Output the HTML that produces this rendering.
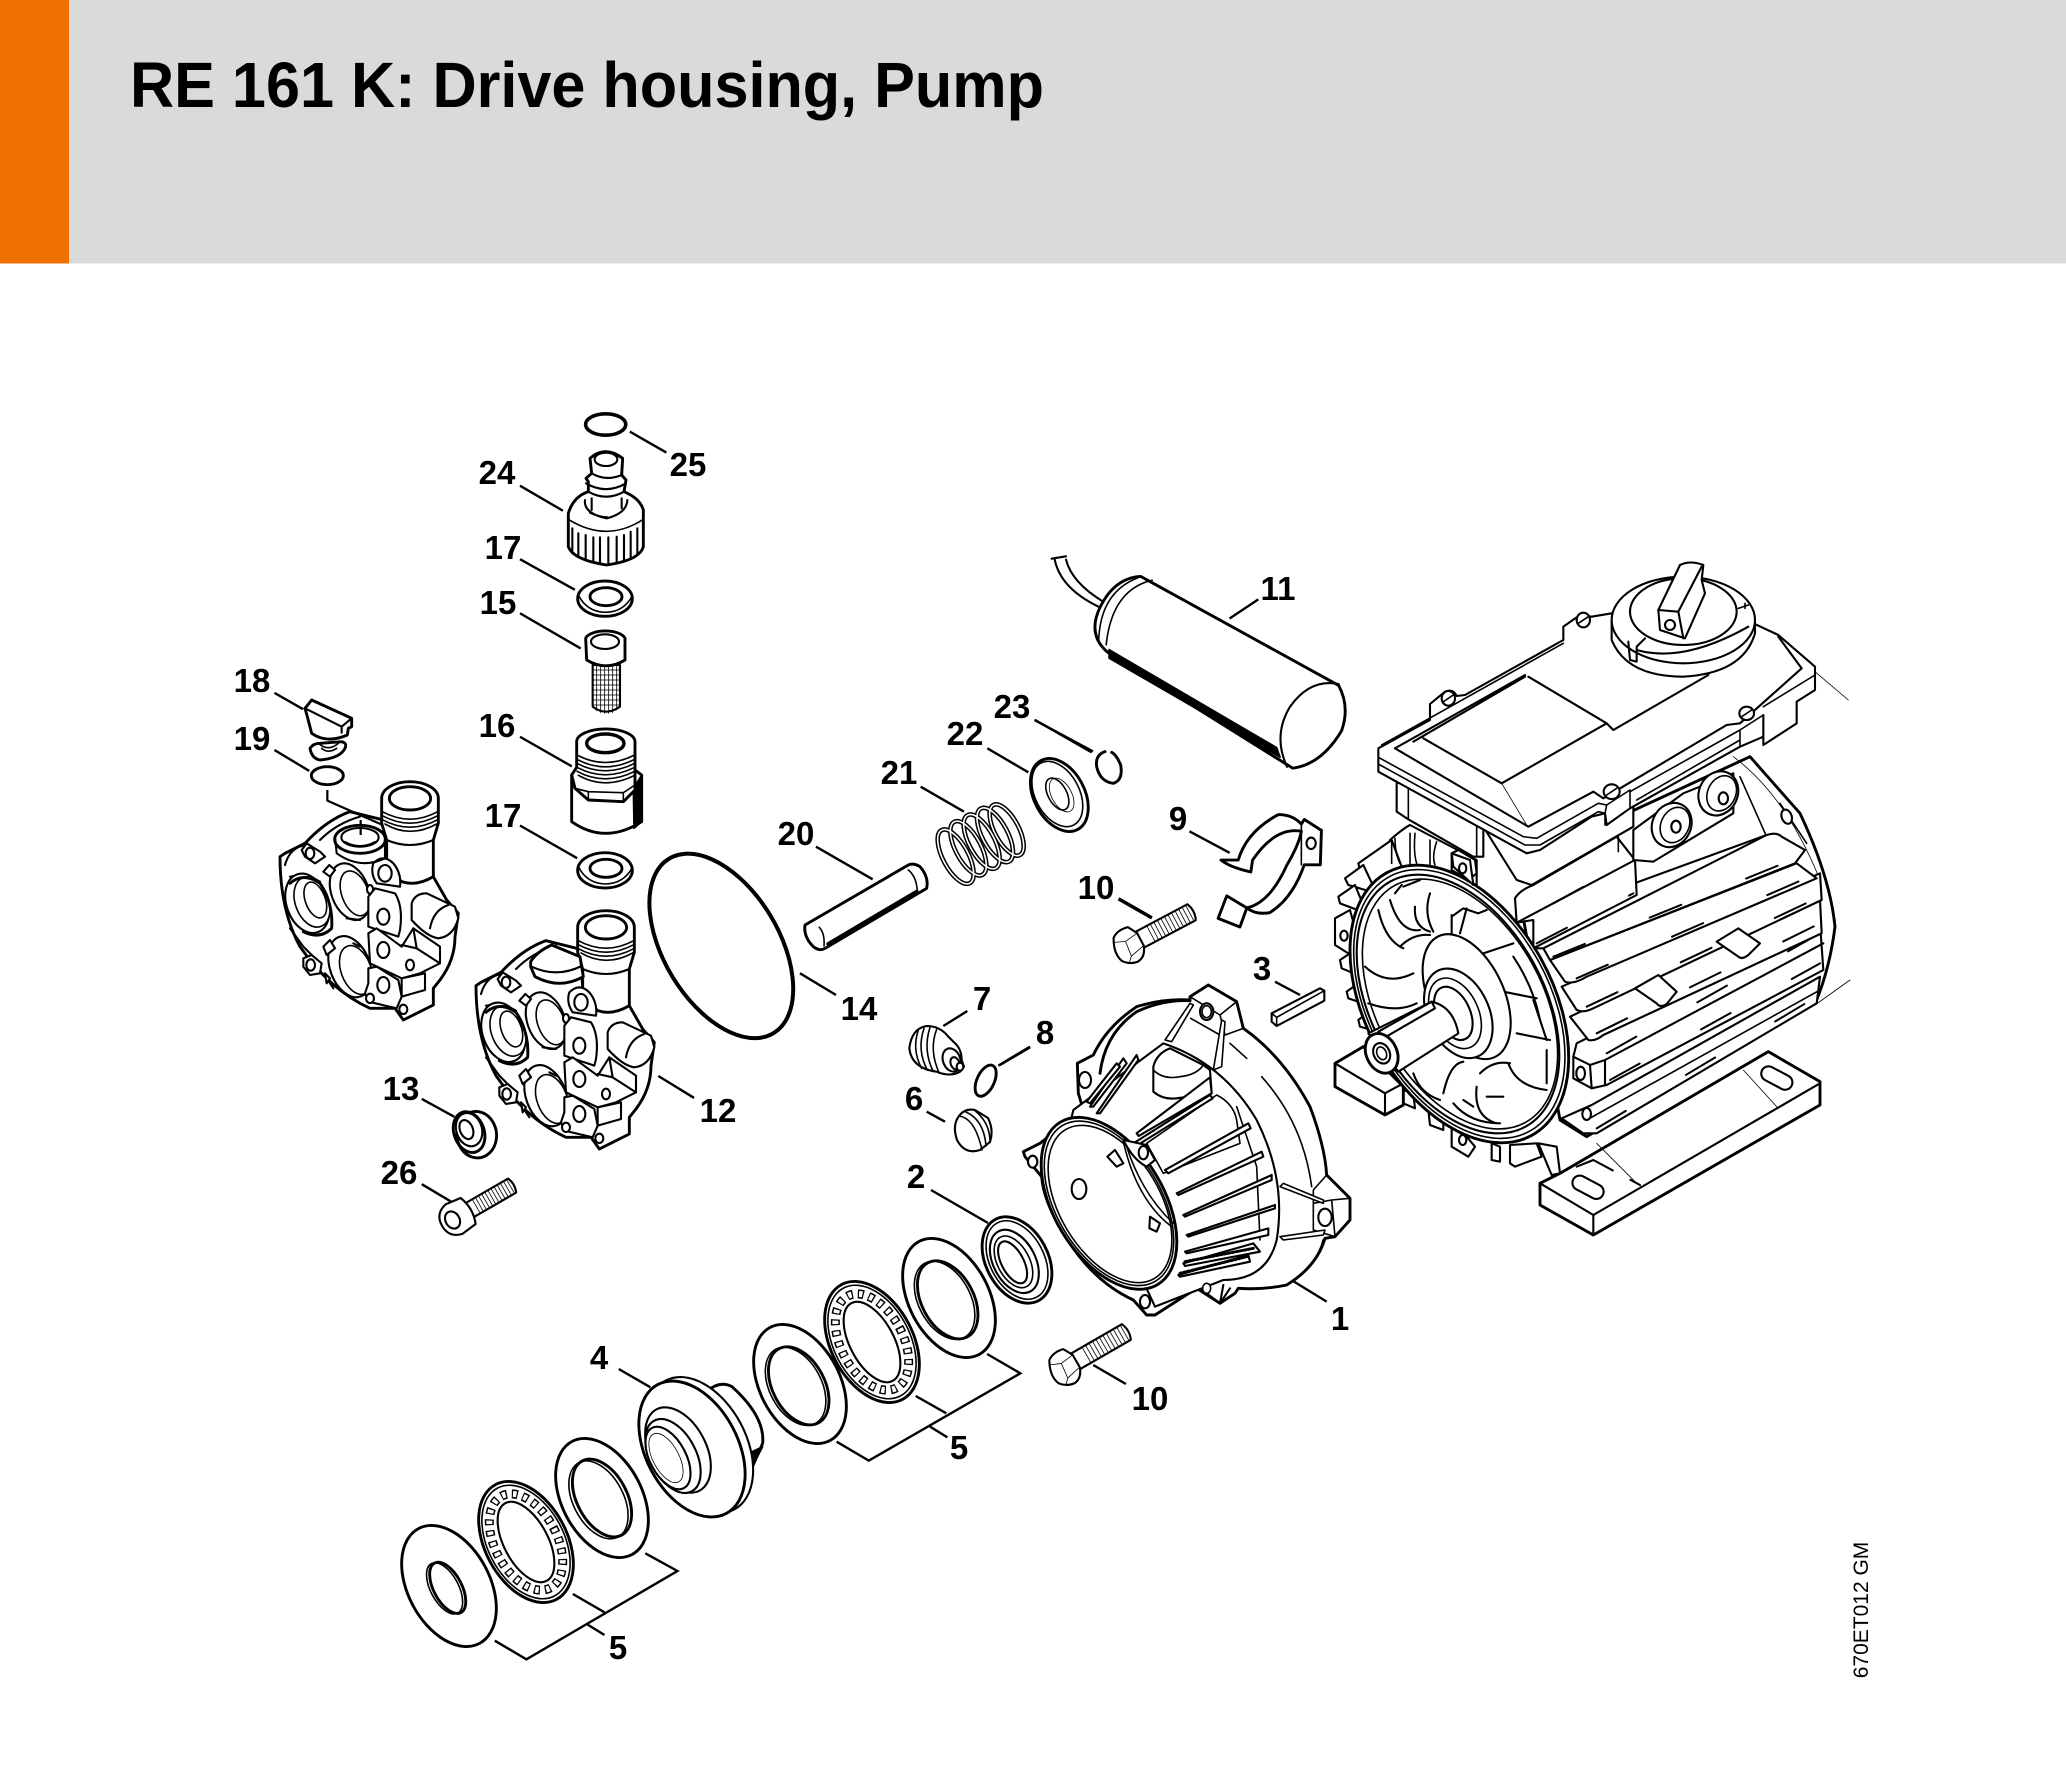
<!DOCTYPE html>
<html><head><meta charset="utf-8"><title>RE 161 K: Drive housing, Pump</title>
<style>
html,body{margin:0;padding:0;background:#fff}
svg{display:block}
svg *{vector-effect:non-scaling-stroke}
.a{fill:#fff;stroke:#000;stroke-width:1.6;stroke-linejoin:round;stroke-linecap:round}
.a .n,.n{fill:none}
.h{stroke-width:2.9}
.m{stroke-width:2.1}
.t{stroke-width:.8}
.l{fill:none;stroke:#000;stroke-width:2.4;stroke-linecap:butt}
.k{fill:#000;stroke:#000}
.d{fill:none;stroke-width:2;stroke-dasharray:34 70}
text.b{font-family:"Liberation Sans",sans-serif;font-weight:bold;font-size:33px;text-anchor:middle;fill:#000}
</style></head><body>
<svg width="2066" height="1784" viewBox="0 0 2066 1784" xmlns="http://www.w3.org/2000/svg">
<defs>
<g id="thr" class="a">
<path d="M8,-9 L72,-9 Q76,0 72,9 L8,9Z" class="m"/>
<path class="n t" d="M26,-9V9M30,-9V9M34,-9V9M38,-9V9M42,-9V9M46,-9V9M50,-9V9M54,-9V9M58,-9V9M62,-9V9M66,-9V9M70,-9V9"/>
</g>
<g id="bolt" class="a">
<use href="#thr"/>
<g transform="scale(.88)">
<path class="m" d="M-10,-16 Q-2,-22 10,-19 L16,-8 L16,8 Q12,20 2,21 Q-8,20 -14,12 Q-19,0 -10,-16Z"/>
<path class="n t" d="M-12,-11 L0,-6 L16,-8M0,-6 L-2,12 L-8,18M-2,12 L16,8"/>
</g>
</g>
<g id="pump" class="a">
<path class="h" d="M30,530 L45,520 L105,490 Q170,420 240,395 L340,420 L350,530 L490,590 L530,660 L565,700 L555,770 Q555,840 510,900 L490,925 L490,975 L400,1020 L375,985 L300,985 Q180,930 90,800 Q30,690 30,530Z"/>
<path class="n m" d="M45,555 Q60,500 110,495 M60,590 Q110,580 150,605M150,480 Q200,430 270,410M60,745 L100,800 L130,830M170,895 L190,925"/>
<ellipse class="m" cx="112" cy="670" rx="62" ry="92" transform="rotate(-20 112 670)"/>
<ellipse cx="126" cy="666" rx="50" ry="78" transform="rotate(-20 126 666)"/>
<ellipse cx="136" cy="660" rx="30" ry="56" transform="rotate(-20 136 660)" class="n"/>
<path class="n h" d="M60,610 Q100,575 150,610 Q190,670 185,745 Q150,780 100,755"/>
<ellipse class="m" cx="240" cy="635" rx="56" ry="88" transform="rotate(-20 240 635)"/>
<ellipse cx="255" cy="640" rx="40" ry="70" transform="rotate(-20 255 640)"/>
<ellipse class="m" cx="240" cy="860" rx="60" ry="95" transform="rotate(-20 240 860)"/>
<ellipse cx="258" cy="870" rx="45" ry="76" transform="rotate(-20 258 870)"/>
<path class="m" d="M160,575 L178,555 L195,570 L180,590Z M160,800 L180,780 L195,805 L170,825Z M165,880 L180,895 L170,910Z"/>
<path class="n m" d="M230,715 L270,720M270,800 L250,790"/>
<path class="m" d="M95,510 L110,490 L150,515 L165,530 L135,550 L105,530Z M100,835 L125,825 L155,850 L150,880 L120,885 L100,860Z"/>
<ellipse class="m" cx="120" cy="520" rx="13" ry="17"/>
<ellipse class="m" cx="122" cy="855" rx="13" ry="17"/>
<path class="h" d="M335,355 L335,430 L350,480 L350,560 L395,605 Q440,620 490,590 L490,480 L505,430 L505,355 A85,50 0 0 0 335,355Z"/>
<ellipse class="h" cx="420" cy="355" rx="62" ry="35"/>
<path class="n" d="M337,395 Q420,440 503,395M337,407 Q420,452 503,407M337,419 Q420,464 503,419M345,432 Q420,476 500,432"/>
<path class="n m" d="M350,480 Q420,510 490,480"/>
<path class="m" d="M310,550 Q340,520 370,550 Q395,580 390,620 L320,610 Q300,580 310,550Z"/>
<ellipse class="m" cx="345" cy="580" rx="20" ry="25"/>
<ellipse class="m" cx="300" cy="628" rx="9" ry="13"/>
<path class="m" d="M295,650 L315,625 L375,640 Q400,680 390,750 L385,770 L295,740Z"/>
<ellipse class="m" cx="340" cy="710" rx="18" ry="24"/>
<path class="m" d="M425,670 Q435,640 470,640 L555,680 L565,715 Q550,770 505,775 Q470,770 425,720Z"/>
<path class="n m" d="M480,745 Q490,690 535,675"/>
<path class="m" d="M295,760 L320,745 L395,800 L430,745 L510,800 L510,850 L450,880 L395,895 L300,850Z"/>
<path class="n m" d="M395,795 L440,805 L510,850M440,805 L430,745"/>
<ellipse class="m" cx="340" cy="810" rx="18" ry="24"/>
<ellipse class="m" cx="420" cy="855" rx="12" ry="16"/>
<path class="m" d="M395,895 L465,880 L465,930 L395,950Z"/>
<path class="m" d="M295,865 L320,860 L385,900 L395,950 L380,985 L295,965 L285,940 L295,910Z"/>
<ellipse class="m" cx="340" cy="915" rx="18" ry="24"/>
<ellipse class="m" cx="300" cy="955" rx="12" ry="14"/>
<ellipse class="m" cx="400" cy="988" rx="12" ry="14"/>
</g>
<g id="bearing" class="a">
<ellipse class="h" rx="41" ry="65"/>
<ellipse class="n" rx="38" ry="61"/>
<ellipse class="n" rx="31" ry="52" style="stroke-width:9;stroke-dasharray:6 5;stroke-linecap:butt"/>
<ellipse class="n" rx="31" ry="52" style="stroke:#fff;stroke-width:6;stroke-dasharray:3.5 7.5;stroke-dashoffset:-1.2;stroke-linecap:butt"/>
<ellipse class="m" rx="22" ry="44" style="fill:#fff"/>
</g>
<g id="w17" class="a">
<ellipse class="h" cx="375" cy="536" rx="82" ry="53"/>
<ellipse class="h n" cx="378" cy="530" rx="48" ry="27"/>
<path class="n" d="M295,525 Q320,575 375,577 Q430,577 457,528"/>
</g>
</defs>

<rect width="2066" height="1784" fill="#fff"/>
<rect width="2066" height="263.5" fill="#d9dbda"/>
<rect width="69" height="263.5" fill="#f07000"/>
<text x="130" y="107" font-family="'Liberation Sans',sans-serif" font-weight="bold" font-size="64" textLength="914" lengthAdjust="spacingAndGlyphs" fill="#000">RE 161 K: Drive housing, Pump</text>

<g transform="translate(220 400) scale(.4464 .5102)" class="a">
<path class="l" d="M918,62L1000,103M672,168L768,217M672,312L795,372M672,418L808,487M122,574L186,606M122,686L200,727M672,660L788,718M672,834L800,898M982,1325L1062,1368M452,1370L525,1405M452,1537L525,1575"/>
<ellipse class="n" style="stroke-width:3.6" cx="864" cy="48" rx="45" ry="21"/>
<ellipse class="h" cx="575" cy="1440" rx="44" ry="46" transform="rotate(-30 575 1440)"/>
<ellipse class="m" cx="558" cy="1430" rx="28" ry="34" transform="rotate(-30 558 1430)"/>
<ellipse class="m" cx="552" cy="1430" rx="14" ry="20" transform="rotate(-30 552 1430)"/>
<ellipse class="h" cx="558" cy="1435" rx="33" ry="42" transform="rotate(-30 558 1435)" style="fill:none"/>
<ellipse class="n" style="stroke-width:4" cx="1123" cy="1070" rx="208" ry="124" transform="rotate(52 1123 1070)"/>
</g>

<g transform="translate(480 420) scale(.33333)" class="a">
<path class="h" d="M265,280 Q280,230 325,215 L325,185 L318,175 L335,160 L330,115 Q375,75 428,115 L425,165 L438,180 L432,215 Q480,235 490,270 L490,380 Q480,420 380,435 Q280,420 265,380Z"/>
<ellipse class="m" cx="378" cy="118" rx="34" ry="20"/>
<path class="n m" d="M335,160 Q378,185 425,165M318,190 Q378,225 438,190M325,215 Q378,245 432,215"/>
<path class="n m" d="M315,240 Q310,280 380,295 Q440,280 442,240M335,235V270M425,235V265M330,278 Q360,292 382,292"/>
<path class="n" d="M265,298 Q380,370 490,298"/>
<path class="n m" d="M277,325V400M295,340V412M317,345V420M340,352V428M360,352V432M385,352V432M410,350V430M432,345V420M452,335V410M472,325V400"/>
<use href="#w17"/>
<use href="#w17" y="815"/>
<path class="m" d="M338,735 L338,860 Q378,890 420,860 L420,735Z"/>
<path class="n t" d="M340,750H418M340,765H418M340,780H418M340,795H418M340,810H418M340,825H418M340,840H418M340,855H418"/>
<path class="n t" d="M350,738V872M362,738V878M374,738V880M386,738V880M398,738V878M410,738V870"/>
<path class="h" d="M317,655 A60,27 0 0 1 435,655 L435,720 Q378,755 320,720Z"/>
<ellipse class="m" cx="375" cy="665" rx="42" ry="22"/>
</g>

<g transform="translate(270 680) scale(.33333)" class="a">
<path class="h" d="M112,110 L125,160 Q170,192 232,165 L235,145 L245,140 L245,115 L125,60 L105,85Z"/>
<path class="n m" d="M105,85 L215,140 L245,115M215,140 L215,158"/>
<path class="h" d="M120,205 Q130,190 150,190 L215,185 Q235,190 222,210 Q205,235 150,240 Q125,235 120,205Z"/>
<path class="n" d="M148,192 Q175,215 205,190M155,205 Q175,222 200,205"/>
<ellipse class="n h" cx="172" cy="287" rx="48" ry="27"/>
<use href="#pump"/>
<ellipse class="h" cx="270" cy="478" rx="76" ry="42"/>
<path class="n m" d="M196,478 L200,520 Q270,570 345,535 L345,480"/>
<ellipse class="m" cx="270" cy="472" rx="56" ry="28"/>
<path class="n" d="M225,485 Q270,510 315,485"/>
<path class="l m" style="stroke-width:2.2" d="M172,330 V362 L338,435M272,420 V432M272,440 V465"/>
<use href="#pump" transform="translate(588 387)"/>
<path class="h" d="M905,285 L905,425 Q1005,495 1115,425 L1115,285 L1095,270Z"/>
<path class="k" d="M1090,325 L1115,285 L1115,425 L1092,445Z"/>
<path class="h" d="M905,285 L920,262 L920,185 A87,38 0 0 1 1095,185 L1095,270 L1095,330 L1060,365 L955,360 L915,325Z"/>
<ellipse class="n" style="stroke-width:3.4" cx="1006" cy="190" rx="56" ry="28"/>
<path class="n" d="M921,225 Q1005,270 1094,225M921,238 Q1005,283 1094,238M921,250 Q1005,295 1094,250M921,262 Q1005,307 1094,262M921,274 Q1005,319 1094,274M925,286 Q1005,331 1094,286M955,335 V360M1060,338 V365M915,325 L955,335 L1060,338 L1095,315"/>
</g>

<g transform="translate(470 780) scale(.33333)" class="a">
<path class="h" d="M182,545 Q200,515 245,495 L330,530 L340,590 Q270,630 195,590 L182,560Z"/>
<path class="n m" d="M185,560 Q260,595 335,558"/>
</g>

<g transform="translate(1128 946) rotate(-28)"><use href="#bolt"/></g>
<g transform="translate(1064 1368) rotate(-30)"><use href="#bolt"/></g>
<g transform="translate(456 1218) rotate(-30)" class="a">
<use href="#thr" transform="scale(.9)"/>
<path class="m" d="M-2,-17 L14,-15 Q20,0 14,15 L-2,17 Q-16,14 -16,0 Q-16,-14 -2,-17Z"/>
<ellipse class="m" cx="-4" cy="0" rx="7" ry="9"/>
</g>

<g transform="translate(780 720) scale(.33333)" class="a">
<path class="l" d="M108,380L278,478M622,85L745,157M422,200L552,275M765,0L935,97M60,760L168,825M490,918L562,873M655,1037L750,980M440,1175L495,1205M1015,538L1115,595"/>
<path class="h" d="M75,615 L385,435 Q400,428 420,440 Q447,470 440,505 L135,685 Q120,695 100,680 Q70,650 75,615Z"/>
<path class="n" d="M385,450 Q410,470 412,515M118,622 Q135,640 132,678"/>
<path class="n" style="stroke-width:4" d="M145,672 L410,515"/>
<g style="stroke:#000;stroke-width:4.6;fill:none">
<ellipse cx="527" cy="410" rx="38" ry="90" transform="rotate(-28 527 410)"/>
<ellipse cx="565" cy="385" rx="38" ry="90" transform="rotate(-28 565 385)"/>
<ellipse cx="605" cy="365" rx="38" ry="90" transform="rotate(-28 605 365)"/>
<ellipse cx="645" cy="345" rx="38" ry="90" transform="rotate(-28 645 345)"/>
<ellipse cx="680" cy="330" rx="36" ry="85" transform="rotate(-28 680 330)"/>
</g>
<g style="stroke:#fff;stroke-width:1.6;fill:none">
<ellipse cx="527" cy="410" rx="38" ry="90" transform="rotate(-28 527 410)"/>
<ellipse cx="565" cy="385" rx="38" ry="90" transform="rotate(-28 565 385)"/>
<ellipse cx="605" cy="365" rx="38" ry="90" transform="rotate(-28 605 365)"/>
<ellipse cx="645" cy="345" rx="38" ry="90" transform="rotate(-28 645 345)"/>
<ellipse cx="680" cy="330" rx="36" ry="85" transform="rotate(-28 680 330)"/>
</g>
<ellipse class="h" cx="838" cy="225" rx="76" ry="117" transform="rotate(-28 838 225)"/>
<ellipse cx="832" cy="222" rx="66" ry="105" transform="rotate(-28 832 222)" style="fill:none"/>
<ellipse class="t" cx="845" cy="225" rx="30" ry="55" transform="rotate(-28 845 225)"/>
<ellipse cx="832" cy="222" rx="28" ry="52" transform="rotate(-28 832 222)" style="fill:none"/>
<path class="n h" d="M975,95 Q945,105 950,140 Q960,185 1000,190 Q1030,180 1022,135 Q1010,105 995,97"/>
<path class="m" d="M440,918 Q480,918 505,950 L520,965 Q545,985 545,1020 L552,1040 L540,1055 Q510,1072 470,1055 Q395,1045 388,985 Q395,925 440,918Z"/>
<path class="n" d="M415,930 Q395,990 425,1045M432,925 Q410,990 442,1050M450,922 Q428,990 460,1055M470,928 Q446,990 478,1060"/>
<ellipse class="m" cx="515" cy="1020" rx="26" ry="36" transform="rotate(-20 515 1020)"/>
<ellipse class="m" cx="525" cy="1030" rx="13" ry="19" transform="rotate(-20 525 1030)"/>
<ellipse class="m" cx="540" cy="1040" rx="10" ry="12"/>
<ellipse class="n h" cx="617" cy="1082" rx="26" ry="50" transform="rotate(25 617 1082)"/>
</g>

<g class="a">
<path class="m" d="M959,1116 Q965,1108 975,1110 L988,1118 Q994,1130 990,1142 L980,1150 Q965,1155 957,1140 Q952,1125 959,1116Z"/>
<path class="n" d="M959,1116 Q975,1118 982,1150M966,1112 Q984,1120 986,1146M974,1110 Q990,1122 990,1142"/>
</g>

<g transform="translate(990 960) scale(.33333)" class="a">
<path class="l" d="M855,65L930,105M912,965L1010,1025M30,315L120,262"/>
<path class="m" d="M845,160 L990,85 L1003,92 L1003,122 L860,198 L845,185Z"/>
<path class="n" d="M845,160 L860,172 L1003,92M860,172V198"/>
<path class="h" d="M600,110 L655,75 L740,125 L760,205 Q880,290 960,440 Q1005,560 1010,645 L1080,715 L1080,780 L1035,830 L1005,835 Q980,920 890,975 Q820,990 745,985 L735,1000 L690,1030 L620,985 L495,1065 L470,1065 L430,1020 Q300,960 215,810 Q160,720 155,650 L105,590 L100,575 L150,550 L280,450 L265,400 L262,310 L310,285 Q350,200 440,140 Q520,115 600,120Z"/>
<path class="n" d="M600,110 L690,165 L740,125M690,165 L705,225 L760,205M602,175 L690,225M1010,645 L970,690 L970,810 L1035,830M970,730 L1025,720 L1080,715M1025,720 L1035,830M815,350 Q940,490 965,680M720,250 L770,295"/>
<path class="n h" d="M330,340 Q345,220 440,155 Q520,118 600,122"/>
<path class="n m" d="M890,975 Q980,920 1000,840M620,985 L650,1000 L690,1030 L700,975M690,1030 L720,985"/>
<ellipse class="m" cx="650" cy="155" rx="20" ry="25"/>
<ellipse cx="650" cy="155" rx="14" ry="18" style="fill:none"/>
<ellipse class="m" cx="1005" cy="772" rx="20" ry="26"/>
<ellipse class="m" cx="285" cy="360" rx="18" ry="24"/>
<path style="fill:#fff;stroke-width:1.6" d="M525,240 L600,130 L610,135 L545,245Z"/>
<path d="M670,330 L695,180 L705,185 L695,320Z"/>
<path d="M880,670 L1000,720 L1000,730 L870,680Z"/>
<path d="M870,830 L1005,810 L1000,825 L880,840Z"/>
<path class="m" d="M250,450 L520,250 Q700,310 800,480 Q890,660 860,840 Q830,960 700,960 L495,1040 L430,900 L215,600Z"/>
<path class="n" d="M740,440 L800,620 L810,840M470,550 L680,405 Q730,430 740,480 L750,550 L520,640Z"/>
<path class="m" d="M490,320 Q500,280 540,265 L640,315 L660,330 L665,400 L560,415 Q520,420 490,395Z"/>
<path class="n" d="M490,330 Q520,360 570,350 Q620,345 640,315"/>
<g class="m">
<path d="M440,520 L660,352 L665,400 L446,528Z"/>
<path d="M430,550 L660,405 L668,415 L435,560Z"/>
<path d="M525,630 L775,490 L782,505 L535,640Z"/>
<path d="M560,700 L815,575 L820,590 L565,705Z"/>
<path d="M580,765 L845,645 L845,660 L585,770Z"/>
<path d="M590,825 L855,735 L855,745 L595,830Z"/>
<path d="M585,875 L835,805 L835,825 L590,880Z"/>
<path d="M580,910 L790,850 L810,875 L585,918Z"/>
<path d="M565,945 L775,885 L780,905 L570,950Z"/>
<path d="M320,460 L440,285 L445,300 L330,460Z"/>
<path d="M300,440 L400,295 L410,310 L310,440Z"/>
<path d="M290,425 L380,310 L390,320 L300,430Z"/>
</g>
<path class="n" style="stroke-width:3;stroke-dasharray:2 2" d="M585,905 L790,865M570,940 L770,890"/>
<ellipse class="h" cx="357" cy="730" rx="165" ry="284" transform="rotate(-31 357 730)"/>
<ellipse cx="357" cy="730" rx="157" ry="272" transform="rotate(-31 357 730)"/>
<ellipse cx="360" cy="732" rx="150" ry="260" transform="rotate(-31 360 732)"/>
<path class="m" d="M400,540 L470,555 L495,600 L470,620 Q430,600 400,540Z"/>
<ellipse class="m" cx="460" cy="578" rx="14" ry="20"/>
<path class="m" d="M352,590 L375,570 L400,610 L380,620Z"/>
<path class="m" d="M480,770 L510,790 L500,815 L478,805Z"/>
<ellipse class="m" cx="267" cy="687" rx="22" ry="30"/>
<path class="n" d="M400,545 Q440,720 545,800M410,560 Q455,700 550,790"/>
<ellipse class="m" cx="128" cy="605" rx="14" ry="18"/>
<ellipse class="m" cx="465" cy="1025" rx="15" ry="20"/>
<ellipse cx="650" cy="985" rx="12" ry="15"/>
</g>

<g class="a">
<g transform="translate(1017 1260) rotate(-28)">
<ellipse class="h" rx="31" ry="46"/>
<ellipse rx="27" ry="42" style="fill:none"/>
<ellipse class="m" cx="-3" cy="0" rx="21" ry="34"/>
<ellipse cx="-4" cy="0" rx="16" ry="28"/>
<ellipse class="m" cx="-5" cy="0" rx="11" ry="23"/>
</g>
<g transform="translate(949 1298) rotate(-28)"><ellipse class="h" rx="40" ry="64"/><ellipse class="h" cx="-2" cy="1" rx="26" ry="42"/><ellipse cx="-5" cy="0" rx="26" ry="42" style="fill:none"/></g>
<use href="#bearing" transform="translate(872 1342) rotate(-28)"/>
<g transform="translate(800 1384) rotate(-28)"><ellipse class="h" rx="40" ry="64"/><ellipse class="h" cx="-2" cy="1" rx="26" ry="42"/><ellipse cx="-5" cy="0" rx="26" ry="42" style="fill:none"/></g>
<g transform="translate(380 1200) scale(.5102 .33333)">
<path class="h" d="M640,575 Q665,540 690,560 Q755,650 750,730 L730,800 L700,700Z"/>
<path class="k" d="M722,760 L750,740 L735,785 L715,790Z"/>
<path class="k" d="M672,880 L715,850 L700,900 L660,930Z"/>
</g>
<ellipse class="m" cx="700" cy="1445" rx="46" ry="73" transform="rotate(-28 700 1445)"/>
<ellipse class="h" cx="692" cy="1449" rx="46" ry="73" transform="rotate(-28 692 1449)"/>
<ellipse class="m" cx="678" cy="1450" rx="28" ry="46" transform="rotate(-28 678 1450)"/>
<ellipse class="m" cx="673" cy="1456" rx="23" ry="40" transform="rotate(-28 673 1456)"/>
<ellipse class="m" cx="668" cy="1458" rx="18" ry="34" transform="rotate(-28 668 1458)"/>
<ellipse class="t" cx="666" cy="1458" rx="13" ry="27" transform="rotate(-28 666 1458)"/>
<g transform="translate(602 1498) rotate(-28)"><ellipse class="h" rx="40" ry="64"/><ellipse class="h" cx="0" cy="0" rx="25" ry="42"/><ellipse cx="-4" cy="0" rx="25" ry="42" style="fill:none"/></g>
<use href="#bearing" transform="translate(526 1542) rotate(-28)"/>
<g transform="translate(449 1586) rotate(-28)"><ellipse class="h" rx="41" ry="65"/><ellipse class="h" cx="-2" cy="1" rx="14" ry="28"/><ellipse cx="-5" cy="0" rx="14" ry="28" style="fill:none"/></g>
</g>
<g transform="translate(380 1200) scale(.5102 .33333)" class="l">
<path d="M1190,462L1255,520L958,782L895,725M1050,588L1110,640M1078,680L1112,712M520,1060L583,1113L287,1378L225,1322M378,1182L440,1237M405,1272L440,1305M468,507L530,562M1398,495L1462,552"/>
</g>
<path class="l" d="M931,1190L988,1223"/>

<g transform="translate(1000 530) scale(.574 .4783)" class="a">
<path class="l" d="M400,185L450,145M60,397L162,463M330,630L400,675M207,770L265,810"/>
<path class="m n" d="M95,60 Q105,125 180,165M115,62 Q125,110 180,150"/>
<path class="m n" d="M90,60 L115,55"/>
<path class="h" d="M245,97 L590,325 Q610,370 595,420 Q560,490 510,498 L190,258 Q150,220 175,160 Q200,100 245,97Z"/>
<path class="n" d="M265,105 Q195,125 185,240M240,100 Q175,130 172,230"/>
<path d="M590,322 Q540,310 505,370 Q475,430 500,495" class="n m"/>
<path class="k" d="M190,250 L482,455 L488,475 L190,268Z"/>
<path class="h" d="M415,690 Q430,630 485,595 Q510,595 525,615 L530,605 L560,628 L558,700 L530,700 Q510,770 470,800 Q445,805 430,790 L418,830 L380,812 L395,765 L430,790 Q470,780 500,700 Q520,660 525,630 Q480,620 440,690 L437,715 Q400,705 385,690Z"/>
<ellipse class="m" cx="542" cy="655" rx="8" ry="12"/>
<path class="n" d="M525,615 L525,700"/>
</g>

<g transform="translate(1320 800) scale(.33333)" class="a">
<path class="t n" d="M1485,615 L1590,540"/>
<path class="h" d="M660,1150 L720,1120 L1345,755 L1500,845 L1500,915 L820,1305 L660,1215Z"/>
<path class="n m" d="M660,1150 L820,1245 L1500,850M820,1245V1305"/>
<path class="n t" d="M830,1030 L950,1150M1270,810 L1370,920"/>
<path class="n m" style="stroke-dasharray:40 20" d="M770,1100 L820,1080 L960,1155"/>
<rect class="m" x="755" y="1140" width="100" height="44" rx="22" transform="rotate(28 805 1160)"/>
<rect class="m" x="1320" y="812" width="100" height="44" rx="22" transform="rotate(28 1370 835)"/>
<path class="m" d="M655,1030 L695,1125 L720,1120 L710,1040Z"/>
<path class="h" d="M1290,-130 L1440,40 Q1530,230 1545,380 Q1530,500 1490,600 L800,1010 L720,960 L600,300 L900,50Z"/>
<path class="n" d="M1260,-70 L1340,110M1380,10 L1460,130"/>
<path class="n t" d="M1240,-130 Q1400,-10 1500,240"/>
<ellipse class="m" cx="1400" cy="50" rx="15" ry="22" transform="rotate(-20 1400 50)"/>
<g class="m">
<path d="M210,120 Q250,85 270,75 L470,180 L470,300 L210,300Z"/>
<path d="M115,190 L215,120 L260,240 L130,250Z"/>
<path d="M75,235 L130,195 L170,280 L85,255Z"/>
<path d="M55,290 L105,255 L140,340 L60,310Z"/>
<path d="M45,355 L90,330 L120,440 L85,460 L45,435Z"/>
<path d="M60,480 L105,450 L125,530 L65,505Z"/>
<path d="M80,575 L115,550 L130,610 L85,595Z"/>
<path d="M115,660 L140,640 L155,690 L120,680Z"/>
<path d="M250,870 L280,880 L285,925 L250,910Z"/>
<path d="M325,930 L370,960 L370,990 L330,975Z"/>
<path d="M395,985 L440,1010 L465,1040 L445,1070 L395,1040Z"/>
<path d="M515,1030 L540,1040 L540,1085 L515,1080Z"/>
<path d="M570,1035 L650,1030 L665,1070 L585,1100 L570,1090Z"/>
<path d="M395,160 L415,150 L465,180 L470,220 L445,240 L395,210Z"/>
</g>
<path class="n" d="M215,120V190M270,100V195M330,120V195M225,115 Q225,160 240,190M285,100 Q280,160 290,190M350,125 Q335,170 345,195"/>
<ellipse class="m" cx="72" cy="407" rx="11" ry="15"/>
<ellipse class="m" cx="428" cy="1020" rx="11" ry="15"/>
<ellipse class="m" cx="425" cy="205" rx="11" ry="15"/>
<path class="m" d="M725,955 L790,1000 L830,1000 L1490,610 L1500,530 L815,915Z"/>
<path class="d" d="M830,985 L1490,590"/>
<path class="n" d="M815,915 L1500,530M800,960 L1500,570"/>
<ellipse class="m" cx="800" cy="942" rx="13" ry="18"/>
<path class="m" d="M770,730 L1500,370 L1510,510 L860,855 L815,865 L760,835 L760,770Z"/>
<path class="n m" d="M760,770 L810,795 L855,780 L1510,430M810,795 L815,865M855,780V855"/>
<path class="d" d="M870,840 L1500,490M860,760 L1500,400"/>
<ellipse class="m" cx="782" cy="820" rx="13" ry="20"/>
<path class="m" d="M750,650 L1500,300 L1505,400 L850,705 Q825,725 805,720Z"/>
<path class="d" d="M830,700 L1500,370"/>
<path class="m" d="M725,560 L1500,220 L1505,300 L820,625 Q790,640 770,630Z"/>
<path class="d" d="M800,620 L1500,290"/>
<path class="m" d="M945,565 L1015,525 L1070,575 L1040,612 Q1020,625 1010,610Z"/>
<path class="m" d="M1190,425 L1255,385 L1320,430 L1285,465 Q1265,480 1255,470Z"/>
<path class="m" d="M690,480 L1430,190 L1490,235 L800,530 Q760,555 735,545Z"/>
<path class="d" d="M770,535 L1480,225"/>
<path class="m" d="M645,365 L670,350 L1340,105 Q1370,95 1385,110 L1455,150 L1425,190 L690,480 L670,445 L645,445Z"/>
<path class="n m" d="M670,445 L1340,105"/>
<path class="d" d="M700,470 L1440,170"/>
<path class="m" d="M585,295 Q600,270 640,255 L890,110 L945,180 L950,285 L640,445 L640,360 L590,368Z"/>
<path class="n m" d="M590,368 L945,180"/>
<path class="d" d="M700,310 L900,200M650,430 L940,280"/>
<path class="h" d="M45,790 L130,740 L250,860 L250,915 L195,945 L45,860Z"/>
<path class="n m" d="M45,790 L195,880 L250,850M195,880V945"/>
<ellipse class="h" cx="418" cy="612" rx="280" ry="450" transform="rotate(-29 418 612)"/>
<ellipse cx="418" cy="612" rx="270" ry="436" transform="rotate(-29 418 612)" style="fill:none"/>
<ellipse class="m" cx="414" cy="612" rx="258" ry="420" transform="rotate(-29 414 612)"/>
<ellipse class="n" cx="420" cy="612" rx="248" ry="406" transform="rotate(-29 420 612)"/>
<g class="n m">
<path d="M175,330 Q195,420 250,445M210,300 Q240,400 300,390M135,500 Q200,560 280,520M145,610 Q230,640 290,610"/>
<path d="M285,320 Q280,380 330,395M330,280 Q310,340 340,395M395,345 L395,400M395,350 L430,325 L475,340 L500,330M440,325 L420,400"/>
<path d="M490,460 L580,430M550,575 L650,595M590,700 L690,720M640,600 L680,720M580,470 Q640,560 660,660M680,750 L680,850M565,790 Q590,860 680,870"/>
<path d="M400,910 Q450,970 540,970M470,860 Q460,950 530,970M280,820 Q300,880 360,900M370,880 Q390,790 430,785M480,820 Q520,780 570,790M500,890 L550,890M430,900 L460,920"/>
<path d="M240,440 Q280,400 330,405M245,255 L225,280 M250,260 L300,240"/>
</g>
<ellipse class="m" cx="440" cy="590" rx="112" ry="200" transform="rotate(-25 440 590)"/>
<ellipse class="m" cx="415" cy="640" rx="92" ry="142" transform="rotate(-25 415 640)"/>
<ellipse cx="405" cy="640" rx="70" ry="112" transform="rotate(-25 405 640)"/>
<ellipse class="m" cx="400" cy="640" rx="50" ry="85" transform="rotate(-25 400 640)"/>
<path class="m" d="M145,700 L335,605 Q400,620 415,700 L235,815Z"/>
<path class="m" d="M175,695 L335,605 L345,625 L190,715Z"/>
<ellipse class="h" cx="185" cy="760" rx="46" ry="62" transform="rotate(-25 185 760)"/>
<ellipse class="m" cx="185" cy="760" rx="24" ry="32" transform="rotate(-25 185 760)"/>
<ellipse cx="185" cy="760" rx="14" ry="20" transform="rotate(-25 185 760)"/>
</g>

<g transform="translate(1350 560) scale(.33333)" class="a">
<path class="t n" d="M1395,335 L1495,420"/>
<path class="m" d="M850,810 L850,900 L910,905 L1150,760 L1150,640 L1000,700Z"/>
<ellipse class="m" cx="965" cy="795" rx="58" ry="68" transform="rotate(25 965 795)"/>
<ellipse cx="975" cy="795" rx="42" ry="55" transform="rotate(25 975 795)"/>
<ellipse class="m" cx="978" cy="800" rx="14" ry="18"/>
<ellipse class="m" cx="1105" cy="700" rx="58" ry="68" transform="rotate(25 1105 700)"/>
<ellipse cx="1115" cy="700" rx="42" ry="55" transform="rotate(25 1115 700)"/>
<ellipse class="m" cx="1120" cy="715" rx="14" ry="18"/>
<path class="m" d="M140,670 L140,755 L175,778 L370,890 L400,890 L400,800 L500,960 L545,975 L850,800 L850,600 L300,620Z"/>
<path class="n" d="M175,685 V778M380,795 V890M805,830 V875"/>
<path class="m" d="M305,880 L360,900 L370,975 L310,920Z"/>
<ellipse class="m" cx="338" cy="925" rx="11" ry="15"/>
<path class="m" d="M85,565 L240,480 L240,432 L285,395 Q310,385 320,408 L345,405 L640,240 L640,200 L690,165 L725,170 L785,160 L1210,190 L1285,225 L1395,320 L1395,390 L1340,425 L1340,490 L1240,555 L1240,465 L1240,530 L1170,560 L840,745 L770,795 L765,760 L725,770 L570,870 L530,880 L85,635Z"/>
<path class="n" d="M95,555 L640,250M85,592 L520,830 L560,835 L745,730 L770,735 L840,690M85,612 L525,855 L570,855 L745,755 L765,760V795M840,690V745M770,735L765,760M840,695 L1170,510 L1240,465M860,720 L1170,540M1170,510V560M1395,345 L1240,440"/>
<path class="n m" d="M135,565 L535,800 L730,695 L760,715 L1130,495 L1170,490 L1355,325 L1285,230M135,565 L525,345M190,545 L525,350"/>
<path class="n m" d="M220,535 L455,670 L770,490 L535,350M770,490 L790,510 L1075,345"/>
<path class="n t" d="M455,670 L530,795"/>
<ellipse class="m" cx="295" cy="415" rx="20" ry="22"/>
<ellipse class="m" cx="700" cy="180" rx="20" ry="22"/>
<ellipse class="m" cx="1190" cy="460" rx="22" ry="20"/>
<ellipse class="m" cx="785" cy="695" rx="24" ry="22"/>
<path class="n" d="M280,425 L310,405M685,190 L715,170M1175,470 L1205,450M770,705 L800,685"/>
<path class="m" d="M785,180 L785,240 Q830,350 1000,350 Q1180,340 1215,220 L1215,180Z"/>
<ellipse class="m" cx="1000" cy="180" rx="215" ry="130"/>
<ellipse class="m" cx="1000" cy="155" rx="160" ry="100"/>
<path class="n m" d="M835,245 L840,300 L860,305 L860,260 L885,235M860,270 Q1000,310 1195,200"/>
<path class="m" d="M925,150 L990,15 Q1020,0 1060,15 L1055,60 L1065,100 L1005,235 L930,210Z"/>
<path class="n m" d="M925,150 L985,155 L1055,20M985,155 L1000,235"/>
<circle class="m" cx="960" cy="195" r="15"/>
<path class="n" d="M1165,145 L1195,135M1185,130 V145"/>
</g>

<g>
<text class="b" x="688" y="476">25</text>
<text class="b" x="497" y="484">24</text>
<text class="b" x="503" y="559">17</text>
<text class="b" x="498" y="614">15</text>
<text class="b" x="252" y="692">18</text>
<text class="b" x="252" y="750">19</text>
<text class="b" x="497" y="737">16</text>
<text class="b" x="503" y="827">17</text>
<text class="b" x="796" y="845">20</text>
<text class="b" x="899" y="784">21</text>
<text class="b" x="965" y="745">22</text>
<text class="b" x="1012" y="718">23</text>
<text class="b" x="1278" y="600">11</text>
<text class="b" x="1178" y="830">9</text>
<text class="b" x="1096" y="899">10</text>
<text class="b" x="1262" y="980">3</text>
<text class="b" x="982" y="1010">7</text>
<text class="b" x="1045" y="1044">8</text>
<text class="b" x="859" y="1020">14</text>
<text class="b" x="914" y="1110">6</text>
<text class="b" x="401" y="1100">13</text>
<text class="b" x="718" y="1122">12</text>
<text class="b" x="399" y="1184">26</text>
<text class="b" x="916" y="1188">2</text>
<text class="b" x="1340" y="1330">1</text>
<text class="b" x="599" y="1369">4</text>
<text class="b" x="1150" y="1410">10</text>
<text class="b" x="959" y="1459">5</text>
<text class="b" x="618" y="1659">5</text>
<text transform="translate(1868 1610) rotate(-90)" text-anchor="middle" font-family="'Liberation Sans',sans-serif" font-size="21" fill="#000">670ET012 GM</text>
</g>
</svg>
</body></html>
